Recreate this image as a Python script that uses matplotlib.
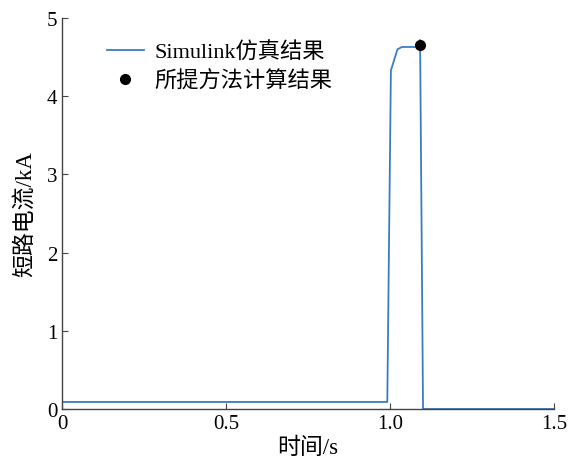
import matplotlib
matplotlib.use("Agg")
import matplotlib.pyplot as plt

# 仿真波形 (时间/s, 电流/kA)
t_sim = [0.0, 0.992, 1.003, 1.023, 1.037, 1.090, 1.092, 1.101, 1.5]
i_sim = [0.09, 0.09, 4.33, 4.60, 4.63, 4.63, 4.72, 0.0, 0.0]

# 所提方法计算结果
t_calc = [1.091]
i_calc = [4.65]

x_ticks = [0, 0.5, 1.0, 1.5]
x_ticklabels = ["0", "0.5", "1.0", "1.5"]
y_ticks = [0, 1, 2, 3, 4, 5]

plt.rcParams["font.family"] = ["Liberation Serif", "Noto Sans CJK SC"]

fig = plt.figure(figsize=(5.71, 4.64), dpi=100)
ax = fig.add_axes([0.1086, 0.1164, 0.8614, 0.8426])

ax.plot(t_sim, i_sim, color="#3a7dbf", lw=1.3, label="Simulink仿真结果")
ax.plot(t_calc, i_calc, "o", color="black", ms=7, label="所提方法计算结果")

ax.set_xlim(0, 1.5)
ax.set_ylim(0, 5)
ax.set_xticks(x_ticks)
ax.set_xticklabels(x_ticklabels)
ax.set_yticks(y_ticks)

for side in ("top", "right"):
    ax.spines[side].set_visible(False)
for side in ("left", "bottom"):
    ax.spines[side].set_color("#444444")
    ax.spines[side].set_linewidth(1.0)
ax.tick_params(direction="in", length=4, colors="#444444", labelcolor="black",
               labelsize=15)

ax.set_xlabel("时间/s", fontsize=16.5, labelpad=3)
ax.set_ylabel("短路电流/kA", fontsize=16.5, labelpad=8)

ax.legend(loc="upper left", bbox_to_anchor=(0.05, 0.99), frameon=False,
          fontsize=16, handlelength=1.7, handletextpad=0.45,
          labelspacing=0.32)

fig.savefig("out.png", dpi=100)
